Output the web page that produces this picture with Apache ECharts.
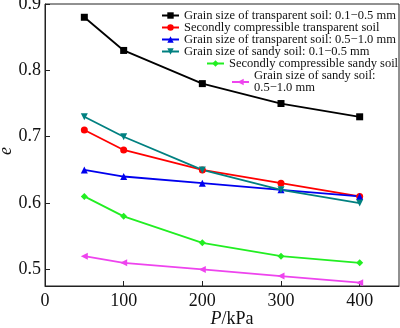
<!DOCTYPE html>
<html>
<head>
<meta charset="utf-8">
<script src="https://cdn.jsdelivr.net/npm/echarts@6/dist/echarts.min.js"></script>
<style>
  html, body { margin: 0; padding: 0; background: #fff; }
  #chart { width: 400px; height: 328px; }
</style>
</head>
<body>
<div id="chart"></div>
<script>
// Pressure steps (kPa)
const pressures = [50, 100, 200, 300, 400];

// Void ratio e at each pressure step
const transparentFine   = [0.88, 0.83, 0.78, 0.75, 0.73];
const transparentSecond = [0.71, 0.68, 0.65, 0.63, 0.61];
const transparentCoarse = [0.65, 0.64, 0.63, 0.62, 0.61];
const sandyFine         = [0.73, 0.70, 0.65, 0.62, 0.60];
const sandySecond       = [0.61, 0.58, 0.54, 0.52, 0.51];
const sandyCoarse       = [0.52, 0.51, 0.50, 0.49, 0.48];

const seriesNames = [
  'Grain size of transparent soil: 0.1\u22120.5 mm',
  'Secondly compressible transparent soil',
  'Grain size of transparent soil: 0.5\u22121.0 mm',
  'Grain size of sandy soil: 0.1\u22120.5 mm',
  'Secondly compressible sandy soil',
  'Grain size of sandy soil: 0.5\u22121.0 mm'
];

const xTicks = [0, 100, 200, 300, 400];
const yTicks = [0.5, 0.6, 0.7, 0.8, 0.9];

const serif = '"Liberation Serif", "DejaVu Serif", serif';
const axisColor = '#222';

function pairs(vals) {
  return pressures.map((p, i) => [p, vals[i]]);
}

function lineSeries(name, vals, color, symbol, size, rotate) {
  return {
    name: name,
    type: 'line',
    data: pairs(vals),
    symbol: symbol,
    symbolSize: size,
    symbolRotate: rotate || 0,
    color: color,
    lineStyle: { width: 1.8, color: color },
    itemStyle: { color: color },
    emphasis: { disabled: true },
    animation: false
  };
}

function legendItem(name, left, top, extra) {
  return Object.assign({
    data: [name],
    left: left,
    top: top,
    itemWidth: 17,
    itemHeight: 8,
    itemGap: 0,
    padding: 0,
    selectedMode: false,
    textStyle: { fontFamily: serif, fontSize: 12.5, color: '#111', lineHeight: 12 }
  }, extra || {});
}

const chart = echarts.init(document.getElementById('chart'), null, { renderer: 'canvas' });

chart.setOption({
  backgroundColor: '#fff',
  animation: false,
  grid: {
    left: 45, top: 4, right: 1, bottom: 42,
    outerBoundsMode: 'none',
    containLabel: false,
    show: true, borderColor: axisColor, borderWidth: 1, backgroundColor: 'transparent'
  },
  xAxis: {
    type: 'value',
    min: 0, max: 450,
    axisLine: { lineStyle: { color: axisColor, width: 1 } },
    axisTick: { inside: true, length: 5, customValues: xTicks, lineStyle: { color: axisColor } },
    axisLabel: { customValues: xTicks, fontFamily: serif, fontSize: 18, color: '#111', margin: 6 },
    splitLine: { show: false },
    name: '{i|P}/kPa',
    nameLocation: 'middle',
    nameGap: 24,
    nameMoveOverlap: false,
    nameTextStyle: {
      fontFamily: serif, fontSize: 18, color: '#111',
      padding: [0, 0, 0, 20],
      rich: { i: { fontFamily: serif, fontSize: 18, fontStyle: 'italic', color: '#111' } }
    }
  },
  yAxis: {
    type: 'value',
    min: 0.475, max: 0.9,
    axisLine: { lineStyle: { color: axisColor, width: 1 } },
    axisTick: { inside: true, length: 5, customValues: yTicks, lineStyle: { color: axisColor } },
    axisLabel: { customValues: yTicks, fontFamily: serif, fontSize: 18, color: '#111', margin: 4,
      formatter: v => v.toFixed(1) },
    splitLine: { show: false },
    name: 'e',
    nameLocation: 'middle',
    nameGap: 30,
    nameRotate: 90,
    nameMoveOverlap: false,
    nameTextStyle: { fontFamily: serif, fontSize: 18, fontStyle: 'italic', color: '#111', padding: [0, 12, 0, 0] }
  },
  legend: [
    legendItem(seriesNames[0], 161, 9),
    legendItem(seriesNames[1], 161, 21),
    legendItem(seriesNames[2], 161, 33),
    legendItem(seriesNames[3], 161, 45),
    legendItem(seriesNames[4], 206, 57),
    legendItem(seriesNames[5], 231, 64, {
      formatter: () => 'Grain size of sandy soil:\n0.5\u22121.0 mm',
      textStyle: { fontFamily: serif, fontSize: 12.5, color: '#111', lineHeight: 12, padding: [12, 0, 0, 0] }
    })
  ],
  series: [
    lineSeries(seriesNames[0], transparentFine, '#000000', 'rect', 7),
    lineSeries(seriesNames[1], transparentSecond, '#ff0000', 'circle', 7),
    lineSeries(seriesNames[2], transparentCoarse, '#0000ee', 'triangle', 7),
    lineSeries(seriesNames[3], sandyFine, '#008080', 'triangle', 7, 180),
    lineSeries(seriesNames[4], sandySecond, '#22ee22', 'diamond', 7),
    lineSeries(seriesNames[5], sandyCoarse, '#ee44ee', 'triangle', 7, 90)
  ]
});
</script>
</body>
</html>
